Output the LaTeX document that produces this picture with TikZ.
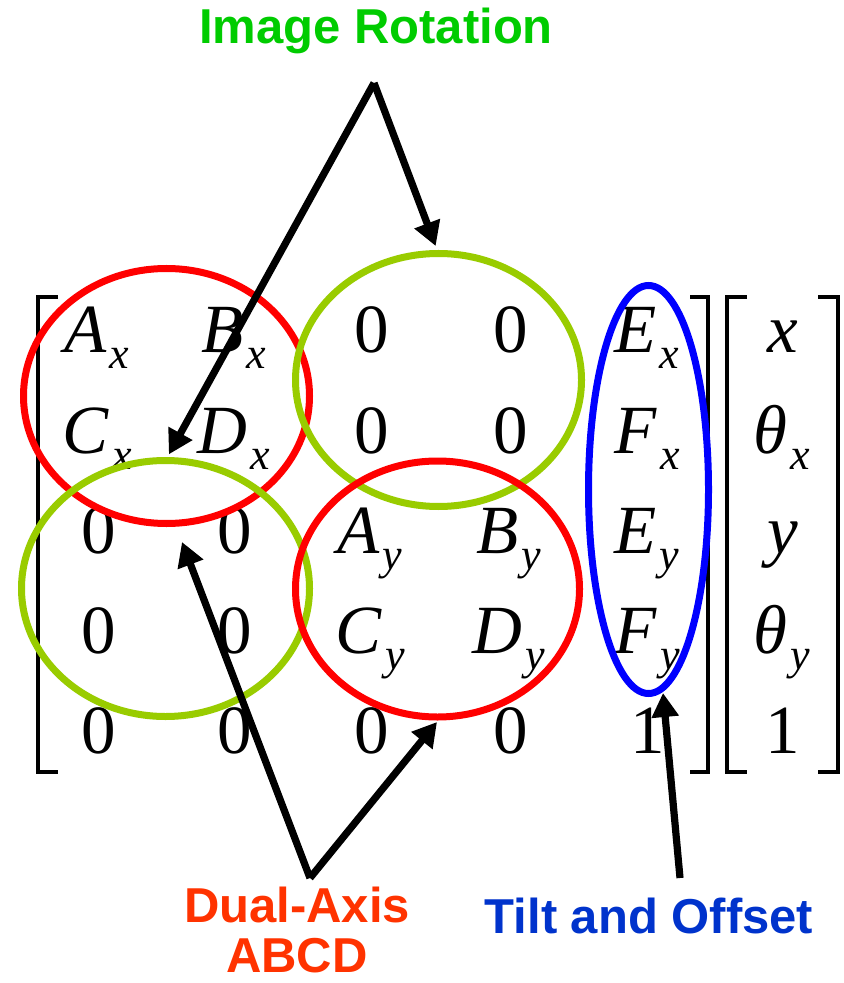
\documentclass[tikz,border=0pt]{standalone}
\usepackage{fontspec}
\setmainfont{Liberation Serif}
\newfontfamily\labfont{Liberation Sans}
\usetikzlibrary{shapes.geometric,arrows.meta}
\definecolor{irgreen}{HTML}{00CC00}
\definecolor{daorange}{HTML}{FF3300}
\definecolor{tiltblue}{HTML}{0033CC}
\definecolor{ellgreen}{HTML}{99CC00}
\definecolor{ellred}{HTML}{FF0000}
\definecolor{ellblue}{HTML}{0000FF}
\newcommand\subsz{\fontsize{22}{22}\selectfont}
\newcommand\mysub[2]{\textit{#1}\kern1.5pt\raisebox{-8pt}{\subsz\textit{#2}}}
\tikzset{
  ent/.style={font=\fontsize{34.5}{40}\selectfont, inner sep=0pt, anchor=base},
  lab/.style={font=\labfont\bfseries\fontsize{24.5}{28}\selectfont, inner sep=0pt, anchor=base},
  ell/.style={ellipse, draw, line width=3.5pt, inner sep=0pt, outer sep=0pt},
  brk/.style={line width=1.8pt, black},
  arr/.style={line width=3.6pt, black, -{Triangle[length=12pt,width=13pt]}}
}
\begin{document}
\begin{tikzpicture}[x=0.5pt,y=-0.5pt]
\fill[white] (0,0) rectangle (844,983);
\useasboundingbox (0,0) rectangle (844,983);

% matrix entries
\node[ent] (m11) at (97,353) {\mysub{A}{x}};
\node[ent] (m12) at (234,353) {\mysub{B}{x}};
\node[ent] (m13) at (372,353) {0};
\node[ent] (m14) at (511,353) {0};
\node[ent] (m15) at (647,353) {\mysub{E}{x}};
\node[ent] (m21) at (97,453) {\mysub{C}{x}};
\node[ent] (m22) at (234,453) {\mysub{D}{x}};
\node[ent] (m23) at (372,453) {0};
\node[ent] (m24) at (511,453) {0};
\node[ent] (m25) at (647,453) {\mysub{F}{x}};
\node[ent] (m31) at (99,553) {0};
\node[ent] (m32) at (235,553) {0};
\node[ent] (m33) at (370,553) {\mysub{A}{y}};
\node[ent] (m34) at (509,553) {\mysub{B}{y}};
\node[ent] (m35) at (647,553) {\mysub{E}{y}};
\node[ent] (m41) at (99,653) {0};
\node[ent] (m42) at (235,653) {0};
\node[ent] (m43) at (370,653) {\mysub{C}{y}};
\node[ent] (m44) at (509,653) {\mysub{D}{y}};
\node[ent] (m45) at (647,653) {\mysub{F}{y}};
\node[ent] (m51) at (99,753) {0};
\node[ent] (m52) at (235,753) {0};
\node[ent] (m53) at (372,753) {0};
\node[ent] (m54) at (511,753) {0};
\node[ent] (m55) at (648,753) {1};
% vector entries
\node[ent] (v1) at (783,353) {\textit{x}};
\node[ent] (v2) at (782,453) {\mysub{θ}{x}};
\node[ent] (v3) at (783,553) {\textit{y}};
\node[ent] (v4) at (782,653) {\mysub{θ}{y}};
\node[ent] (v5) at (783,753) {1};

% brackets
\draw[brk] (58,297) -- (38,297) -- (38,772) -- (58,772);
\draw[brk] (690,297) -- (708,297) -- (708,772) -- (690,772);
\draw[brk] (747,297) -- (727,297) -- (727,772) -- (747,772);
\draw[brk] (818,297) -- (838,297) -- (838,772) -- (818,772);

% ellipses
\node[ell, draw=ellred, minimum width=143pt, minimum height=127.5pt] (rTL) at (166.5,396) {};
\node[ell, draw=ellgreen, minimum width=143pt, minimum height=126.5pt] (gTR) at (438.5,380) {};
\node[ell, draw=ellgreen, minimum width=144pt, minimum height=128pt] (gBL) at (165.5,588.5) {};
\node[ell, draw=ellred, minimum width=142pt, minimum height=128pt] (rBR) at (437.5,589) {};
\node[ell, draw=ellblue, minimum width=60pt, minimum height=204pt] (bR) at (648.5,489.5) {};

% labels
\node[lab, text=irgreen] (ir) at (376,44) {Image Rotation};
\node[lab, text=daorange] (da1) at (297,922) {Dual-Axis};
\node[lab, text=daorange] (da2) at (297,972) {ABCD};
\node[lab, text=tiltblue] (to) at (649,933) {Tilt and Offset};

% arrows
\coordinate (irApex) at (374,83);
\coordinate (daApex) at (310,878);
\coordinate (toFoot) at (680,878);
\coordinate (daTipL) at (182,542);
\coordinate (daTipR) at (437,722);
\coordinate (toTip) at (663,693);
\draw[arr] (irApex) -- (gTR.north) [shorten >=4pt];
\draw[arr] (irApex) -- (gBL.north) [shorten >=3.5pt];
\draw[arr] (daApex) -- (daTipL);
\draw[arr] (daApex) -- (daTipR);
\draw[arr] (toFoot) -- (toTip);
\end{tikzpicture}
\end{document}
